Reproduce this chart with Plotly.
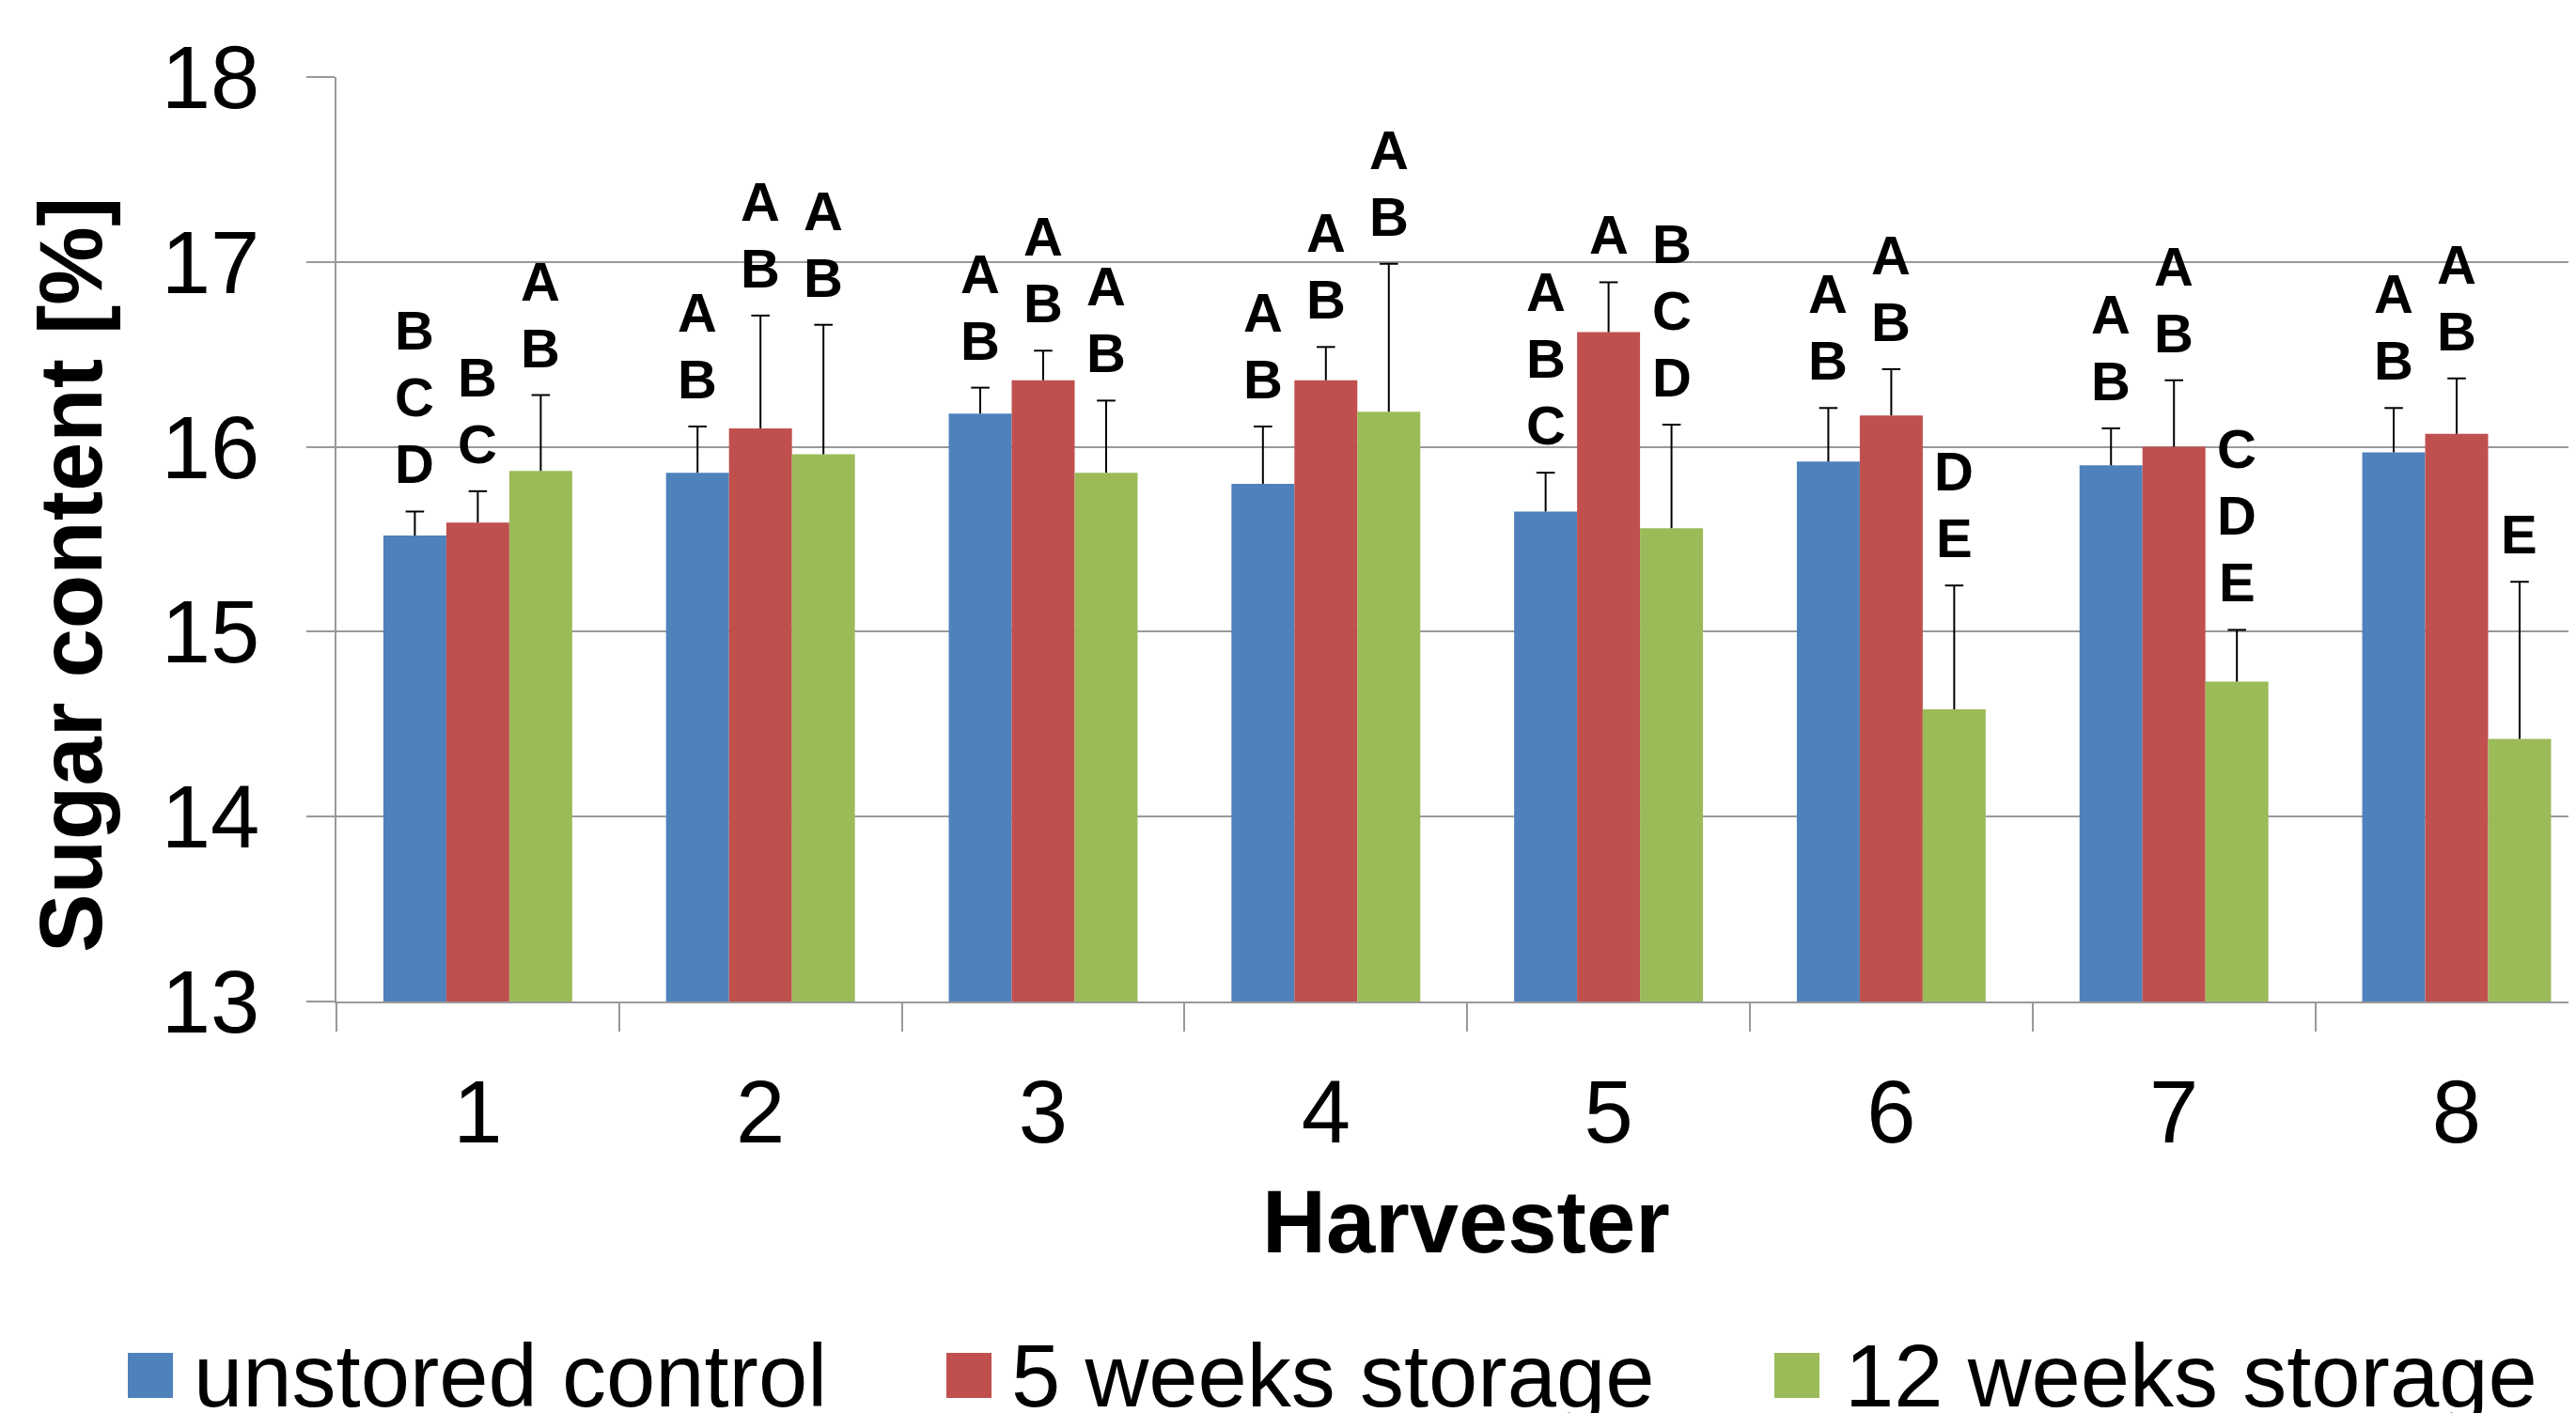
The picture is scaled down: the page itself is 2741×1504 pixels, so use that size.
import plotly.graph_objects as go

# ---------------- data ----------------
harvesters = ["1", "2", "3", "4", "5", "6", "7", "8"]
series_names = ["unstored control", "5 weeks storage", "12 weeks storage"]
unstored = [15.52, 15.86, 16.18, 15.80, 15.65, 15.92, 15.90, 15.97]
weeks5 = [15.59, 16.10, 16.36, 16.36, 16.62, 16.17, 16.00, 16.07]
weeks12 = [15.87, 15.96, 15.86, 16.19, 15.56, 14.58, 14.73, 14.42]
err_unstored = [0.13, 0.25, 0.14, 0.31, 0.21, 0.29, 0.20, 0.24]
err_5 = [0.17, 0.61, 0.16, 0.18, 0.27, 0.25, 0.36, 0.30]
err_12 = [0.41, 0.70, 0.39, 0.80, 0.56, 0.67, 0.28, 0.85]
letters_unstored = ["BCD", "AB", "AB", "AB", "ABC", "AB", "AB", "AB"]
letters_5 = ["BC", "AB", "AB", "AB", "A", "AB", "AB", "AB"]
letters_12 = ["AB", "AB", "AB", "AB", "BCD", "DE", "CDE", "E"]
y_ticks = [13, 14, 15, 16, 17, 18]

values = [unstored, weeks5, weeks12]
errors = [err_unstored, err_5, err_12]
letters = [letters_unstored, letters_5, letters_12]
colors = ["#4F81BD", "#C0504D", "#9BBB59"]

FONT = "Liberation Sans"
GRID = "#999999"
W, H = 2741, 1504
OFF = 8  # page body margin of the browser
ML, MR, MT, MB = 350, 0, 74, 446
BARGAP = 0.332
CAT_PX = 300.8
pw = W - ML - MR
ph = H - MT - MB
X_MAX = -0.5 + pw / CAT_PX
LETTER_SIZE = 58
LETTER_STEP = 71

fig = go.Figure()
bar_w = (1 - BARGAP) / len(values)
for j, (name, vals, errs, col) in enumerate(zip(series_names, values, errors, colors)):
    fig.add_trace(go.Bar(
        x=harvesters, y=vals, name=name,
        marker=dict(color=col, line=dict(width=0)),
        error_y=dict(type="data", symmetric=False, array=errs,
                     arrayminus=[0] * len(errs), color="black",
                     thickness=2, width=0),
        showlegend=False,
    ))
    offset = (j - (len(values) - 1) / 2) * bar_w
    xs = [i + offset for i in range(len(harvesters))]
    tops = [v + e for v, e in zip(vals, errs)]
    # error bar caps
    fig.add_trace(go.Scatter(
        x=xs, y=tops, xaxis="x2", yaxis="y", mode="markers",
        marker=dict(symbol="line-ew", size=14,
                    line=dict(color="black", width=2)),
        showlegend=False, hoverinfo="skip",
    ))
    for xi, ti, lab in zip(xs, tops, letters[j]):
        for k, ch in enumerate(reversed(lab)):
            fig.add_annotation(
                x=xi, y=ti, xref="x2", yref="y", text=ch,
                showarrow=False, yanchor="bottom", xanchor="center",
                yshift=16 + k * LETTER_STEP,
                font=dict(family=FONT, size=LETTER_SIZE, color="black",
                          weight="bold"),
            )


def px_x(p):
    return (p - OFF - ML) / pw


def px_y(p):
    return (H - MB - (p - OFF)) / ph


# axis titles
fig.add_annotation(
    text="Sugar content [%]", xref="paper", yref="paper",
    x=px_x(75), y=px_y(612), textangle=-90, showarrow=False,
    xanchor="center", yanchor="middle",
    font=dict(family=FONT, size=94, color="black", weight="bold"),
)
fig.add_annotation(
    text="Harvester", xref="paper", yref="paper",
    x=px_x(1560), y=px_y(1300), showarrow=False,
    xanchor="center", yanchor="middle",
    font=dict(family=FONT, size=94, color="black", weight="bold"),
)

# manual legend
leg_sq = [136, 1007, 1888]
leg_tx = [204, 1074, 1961]
for name, col, sx, tx in zip(series_names, colors, leg_sq, leg_tx):
    fig.add_shape(type="rect", xref="paper", yref="paper",
                  x0=px_x(sx), x1=px_x(sx + 48), y0=px_y(1488), y1=px_y(1440),
                  fillcolor=col, line=dict(width=0))
    fig.add_annotation(
        text=name, xref="paper", yref="paper", x=px_x(tx), y=px_y(1464),
        showarrow=False, xanchor="left", yanchor="middle",
        font=dict(family=FONT, size=94, color="black"),
    )

fig.update_layout(
    width=W, height=H,
    margin=dict(l=ML, r=MR, t=MT, b=MB, pad=0),
    paper_bgcolor="white", plot_bgcolor="white",
    barmode="group", bargap=BARGAP, bargroupgap=0,
    font=dict(family=FONT, color="black"),
    showlegend=False,
    xaxis=dict(
        type="category", range=[-0.5, X_MAX],
        showline=True, linecolor=GRID, linewidth=2,
        ticks="outside", tickson="boundaries", ticklen=30,
        tickcolor=GRID, tickwidth=2,
        tickfont=dict(family=FONT, size=94, color="black"),
        ticklabelstandoff=35, showgrid=False, zeroline=False,
    ),
    xaxis2=dict(
        overlaying="x", anchor="y", range=[-0.5, X_MAX], visible=False,
    ),
    yaxis=dict(
        range=[13, 18], tickvals=y_ticks,
        showline=True, linecolor=GRID, linewidth=2,
        ticks="outside", ticklen=30, tickcolor=GRID, tickwidth=2,
        showgrid=True, gridcolor=GRID, gridwidth=2, zeroline=False,
        tickfont=dict(family=FONT, size=94, color="black"),
        ticklabelstandoff=31,
    ),
)

fig.write_html("out.html")
